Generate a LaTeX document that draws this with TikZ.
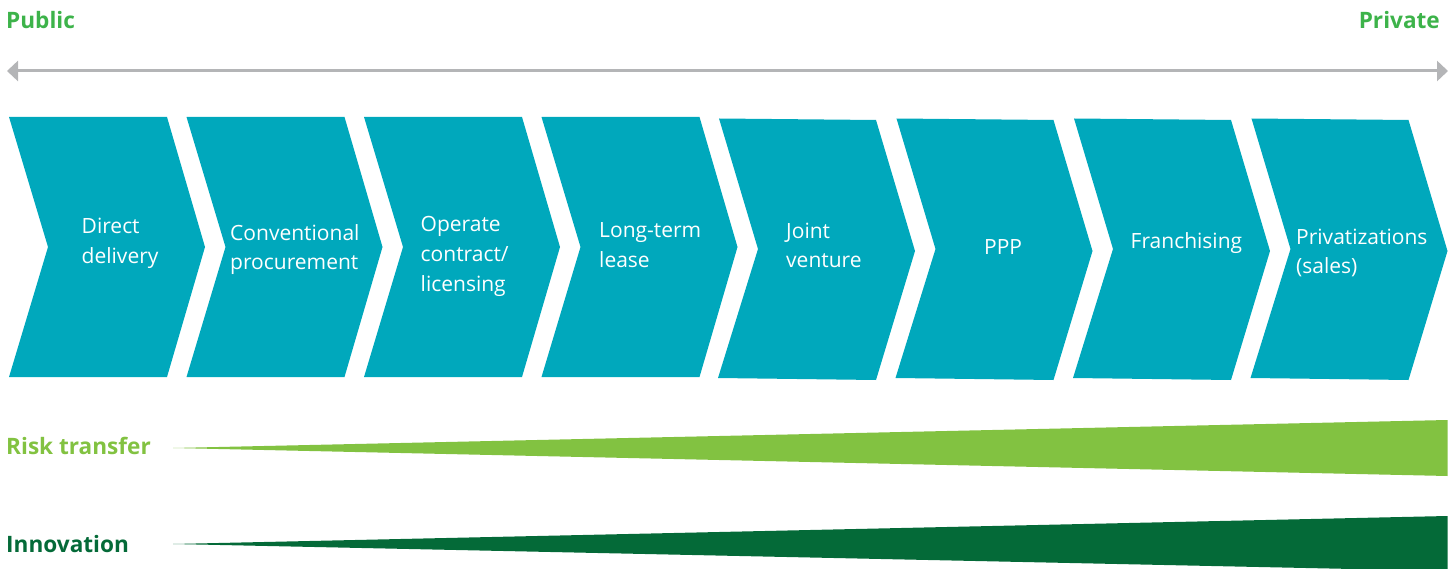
\documentclass[tikz,border=0pt]{standalone}
\usepackage{fontspec}
\setmainfont{Open Sans}
\usetikzlibrary{arrows.meta}
\definecolor{teal}{HTML}{00A8BC}
\definecolor{pubgreen}{HTML}{3DB34A}
\definecolor{riskgreen}{HTML}{82C241}
\definecolor{darkgreen}{HTML}{046A38}
\definecolor{axisgray}{HTML}{B4B5B7}
\begin{document}
\begin{tikzpicture}[x=1pt,y=-1pt,
  chev/.style={fill=teal},
  lab/.style={text=white,inner sep=0pt,anchor=base west,align=left,font=\fontsize{21}{29.5}\selectfont},
  side/.style={inner sep=0pt,font=\fontsize{22.6}{26}\selectfont\bfseries}]
\useasboundingbox (0,0) rectangle (1456,569);
% axis
\node[side,text=pubgreen,anchor=base west] (pub) at (6,29) {Public};
\node[side,text=pubgreen,anchor=base east] (priv) at (1440,29) {Private};
\coordinate (axL) at (7,71);
\coordinate (axR) at (1448,71);
\draw[axisgray,line width=3pt,{Triangle[length=11pt,width=20pt]}-{Triangle[length=11pt,width=20pt]}] (axL) -- (axR);
% chevrons 1-4 (flat)
\foreach \i in {0,...,3}{
  \pgfmathsetmacro{\L}{9+177.5*\i}
  \fill[chev] (\L,117) -- (\L+158,117) -- (\L+196,247) -- (\L+158,377) -- (\L,377) -- (\L+39,247) -- cycle;
}
% chevrons 5-8 (slightly tilted)
\foreach \i in {4,...,7}{
  \pgfmathsetmacro{\L}{9+177.5*\i}
  \fill[chev] (\L,118.5) -- (\L+157,120) -- (\L+196,251) -- (\L+157,380) -- (\L-1,378) -- (\L+39,249) -- cycle;
}
% labels (base anchor = baseline of last line)
\node[lab] (t1) at (81.5,263.5) {Direct\\delivery};
\node[lab] (t2) at (230,270) {Conventional\\procurement};
\node[lab] (t3) at (420.5,291) {Operate\\contract/\\licensing};
\node[lab] (t4) at (599,267.5) {Long-term\\lease};
\node[lab] (t5) at (786,268) {Joint\\venture};
\node[lab] (t6) at (984,255) {PPP};
\node[lab] (t7) at (1130.5,248.5) {Franchising};
\node[lab] (t8) at (1296,274) {Privatizations\\(sales)};
% wedges
\node[side,text=riskgreen,anchor=base west] (risk) at (6,454) {Risk transfer};
\node[side,text=darkgreen,anchor=base west] (innov) at (6,552) {Innovation};
\coordinate (rtip) at (173,448);
\coordinate (itip) at (173,544);
\fill[riskgreen] (rtip) -- (1447.5,420) -- (1447.5,476) -- cycle;
\fill[darkgreen] (itip) -- (1447.5,516) -- (1447.5,571) -- cycle;
\end{tikzpicture}
\end{document}
